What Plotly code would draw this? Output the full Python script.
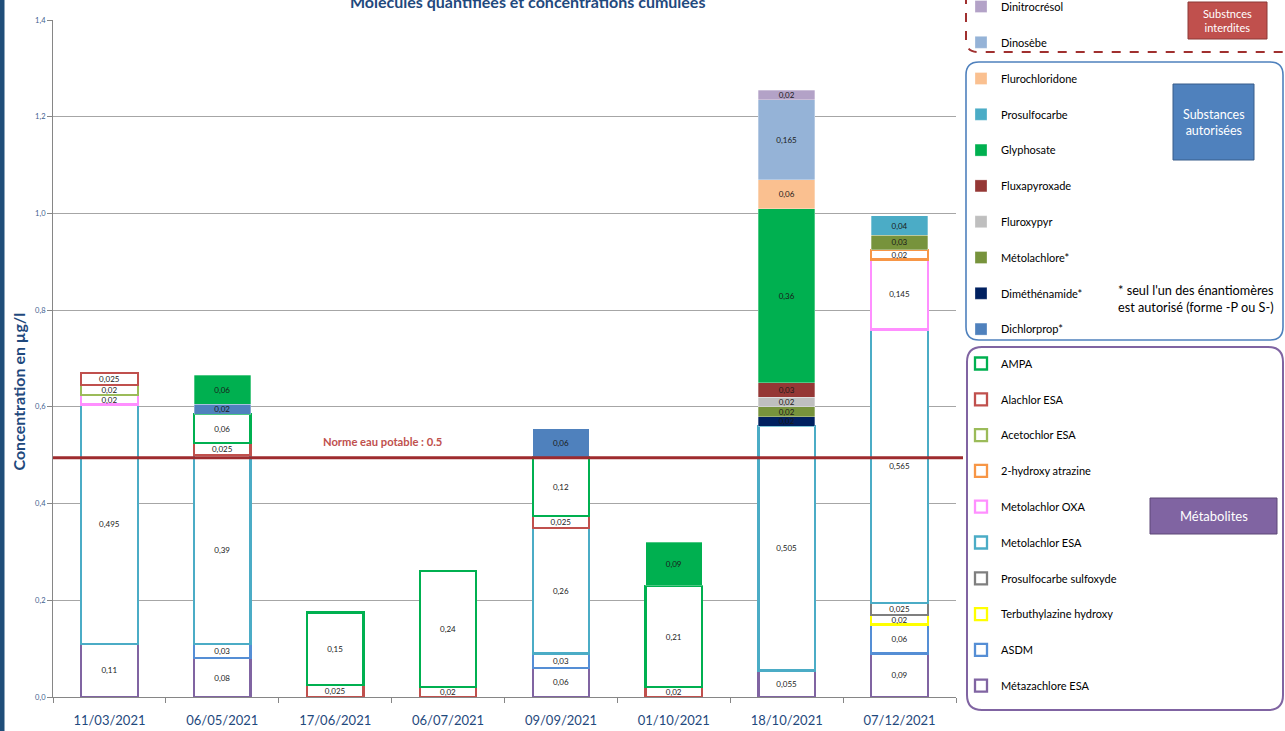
import plotly.graph_objects as go

# ---------------- data ----------------
dates = ["11/03/2021", "06/05/2021", "17/06/2021", "06/07/2021",
         "09/09/2021", "01/10/2021", "18/10/2021", "07/12/2021"]

# Métabolites (bottom of the stack first)
metazachlore_esa = [0.11, 0.08, None, None, 0.06, None, 0.055, 0.09]
asdm = [None, 0.03, None, None, 0.03, None, None, 0.06]
terbuthylazine_hydroxy = [None, None, None, None, None, None, None, 0.02]
prosulfocarbe_sulfoxyde = [None, None, None, None, None, None, None, 0.025]
metolachlor_esa = [0.495, 0.39, None, None, 0.26, None, 0.505, 0.565]
metolachlor_oxa = [0.02, None, None, None, None, None, None, 0.145]
hydroxy_atrazine = [None, None, None, None, None, None, None, 0.02]
acetochlor_esa = [0.02, None, None, None, None, None, None, None]
alachlor_esa = [0.025, 0.025, 0.025, 0.02, 0.025, 0.02, None, None]
ampa = [None, 0.06, 0.15, 0.24, 0.12, 0.21, None, None]
# Substances autorisées
dichlorprop = [None, 0.02, None, None, 0.06, None, None, None]
dimethenamide = [None, None, None, None, None, None, 0.02, None]
metolachlore = [None, None, None, None, None, None, 0.02, 0.03]
fluroxypyr = [None, None, None, None, None, None, 0.02, None]
fluxapyroxade = [None, None, None, None, None, None, 0.03, None]
glyphosate = [None, 0.06, None, None, None, 0.09, 0.36, None]
prosulfocarbe = [None, None, None, None, None, None, None, 0.04]
flurochloridone = [None, None, None, None, None, None, 0.06, None]
# Substances interdites
dinoseb = [None, None, None, None, None, None, 0.165, None]
dinitrocresol = [None, None, None, None, None, None, 0.02, None]

norme = 0.5
norme_drawn = 0.495
y_ticks = [0.0, 0.2, 0.4, 0.6, 0.8, 1.0, 1.2, 1.4]

# (name, values, colour, filled, legend box)
series = [
    ("Métazachlore ESA", metazachlore_esa, "#8064A2", False, "legend3"),
    ("ASDM", asdm, "#558ED5", False, "legend3"),
    ("Terbuthylazine hydroxy", terbuthylazine_hydroxy, "#FFFF00", False, "legend3"),
    ("Prosulfocarbe sulfoxyde", prosulfocarbe_sulfoxyde, "#7F7F7F", False, "legend3"),
    ("Metolachlor ESA", metolachlor_esa, "#4BACC6", False, "legend3"),
    ("Metolachlor OXA", metolachlor_oxa, "#FF8FFF", False, "legend3"),
    ("2-hydroxy atrazine", hydroxy_atrazine, "#F79646", False, "legend3"),
    ("Acetochlor ESA", acetochlor_esa, "#9BBB59", False, "legend3"),
    ("Alachlor ESA", alachlor_esa, "#C0504D", False, "legend3"),
    ("AMPA", ampa, "#00B050", False, "legend3"),
    ("Dichlorprop*", dichlorprop, "#4F81BD", True, "legend2"),
    ("Diméthénamide*", dimethenamide, "#002060", True, "legend2"),
    ("Métolachlore*", metolachlore, "#77933C", True, "legend2"),
    ("Fluroxypyr", fluroxypyr, "#BFBFBF", True, "legend2"),
    ("Fluxapyroxade", fluxapyroxade, "#953735", True, "legend2"),
    ("Glyphosate", glyphosate, "#00B050", True, "legend2"),
    ("Prosulfocarbe", prosulfocarbe, "#4BACC6", True, "legend2"),
    ("Flurochloridone", flurochloridone, "#FAC090", True, "legend2"),
    ("Dinosèbe", dinoseb, "#95B3D7", True, "legend"),
    ("Dinitrocrésol", dinitrocresol, "#B3A2C7", True, "legend"),
]

FONT = "Lato, 'Open Sans', sans-serif"
DARKBLUE = "#1F497D"

def fmt(v):
    return "" if v is None else ("%g" % v).replace(".", ",")

fig = go.Figure()
n = len(series)
for i, (name, vals, col, filled, leg) in enumerate(series):
    fig.add_trace(go.Bar(
        x=dates, y=vals, name=name, legendgroup=name, legend=leg,
        legendrank=n - i,
        marker=dict(color=col if filled else "white",
                    line=dict(color=col if not filled else "rgba(255,255,255,0.6)",
                              width=2.3 if not filled else 0.5)),
        text=[fmt(v) for v in vals],
        textposition="inside", insidetextanchor="middle", textangle=0,
        textfont=dict(size=8, color="#1a1a1a", family=FONT),
        cliponaxis=False,
    ))

# ---------- helpers for decoration placement (pixel -> paper) ----------
L, R, T, B = 53, 956, 20, 697
W, H = 1285, 731

def px(x):
    return (x - L) / (R - L)

def py(y):
    return 1 - (y - T) / (B - T)

def rrect(x0, y0, x1, y1, r):
    pts = [
        ("M", [(x0 + r, y0)]), ("L", [(x1 - r, y0)]), ("Q", [(x1, y0), (x1, y0 + r)]),
        ("L", [(x1, y1 - r)]), ("Q", [(x1, y1), (x1 - r, y1)]),
        ("L", [(x0 + r, y1)]), ("Q", [(x0, y1), (x0, y1 - r)]),
        ("L", [(x0, y0 + r)]), ("Q", [(x0, y0), (x0 + r, y0)]),
    ]
    s = ""
    for cmd, p in pts:
        s += cmd + " ".join("%.5f,%.5f" % (px(a), py(b)) for a, b in p) + " "
    return s + "Z"

shapes = []
annotations = []

# norm line
shapes.append(dict(type="line", xref="paper", yref="y", x0=0, x1=px(963),
                   y0=norme_drawn, y1=norme_drawn,
                   line=dict(color="#9E2B2E", width=3), layer="above"))
annotations.append(dict(text="<b>Norme eau potable : %s</b>" % norme, xref="paper", yref="y",
                        x=px(382), y=0.528, showarrow=False, xanchor="center",
                        font=dict(family=FONT, size=11.2, color="#C0504D")))

# left dark stripe
shapes.append(dict(type="rect", xref="paper", yref="paper", x0=px(0), x1=px(4.5),
                   y0=py(740), y1=py(-10), fillcolor="#1F4E79", line=dict(width=0)))

# group boxes
shapes.append(dict(type="path", xref="paper", yref="paper",
                   path=rrect(966, -30, 1310, 52, 12),
                   line=dict(color="#A0302F", width=2, dash="dash")))
shapes.append(dict(type="path", xref="paper", yref="paper",
                   path=rrect(966, 62, 1283, 340, 13),
                   line=dict(color="#4F81BD", width=1.6)))
shapes.append(dict(type="path", xref="paper", yref="paper",
                   path=rrect(967, 347, 1283, 710, 15),
                   line=dict(color="#8064A2", width=2)))

# label boxes
for (x0, y0, x1, y1, fill, border, txt, fs) in [
    (1188, 2, 1267, 39, "#C0504D", "#8C3836", "Substnces<br>interdites", 11),
    (1173, 84, 1254, 160, "#4F81BD", "#385D8A", "Substances<br>autorisées", 12.5),
    (1150, 498, 1277, 534, "#8064A2", "#5C4776", "Métabolites", 13),
]:
    shapes.append(dict(type="rect", xref="paper", yref="paper",
                       x0=px(x0), x1=px(x1), y0=py(y1), y1=py(y0),
                       fillcolor=fill, line=dict(color=border, width=1)))
    annotations.append(dict(text=txt, xref="paper", yref="paper",
                            x=px((x0 + x1) / 2), y=py((y0 + y1) / 2),
                            xanchor="center", yanchor="middle",
                            showarrow=False, align="center",
                            font=dict(family=FONT, size=fs, color="white")))

# footnote
annotations.append(dict(text="* seul l'un des énantiomères<br>est autorisé (forme -P ou S-)",
                        xref="paper", yref="paper", x=px(1116), y=py(298),
                        xanchor="left", yanchor="middle", align="left", showarrow=False,
                        font=dict(family=FONT, size=12.7, color="black")))

# title
annotations.append(dict(text="<b>Molécules quantifiées et concentrations cumulées</b>",
                        xref="paper", yref="paper", x=px(527), y=py(2),
                        showarrow=False, xanchor="center", yanchor="middle",
                        font=dict(family=FONT, size=16, color=DARKBLUE)))

# y axis title
annotations.append(dict(text="<b>Concentration en µg/l</b>", xref="paper", yref="paper",
                        x=px(17.5), y=py(392), textangle=-90, showarrow=False,
                        xanchor="center", yanchor="middle",
                        font=dict(family=FONT, size=16, color=DARKBLUE)))

leg_common = dict(xanchor="left", yanchor="top", traceorder="grouped",
                  tracegroupgap=16.8, bgcolor="rgba(0,0,0,0)", borderwidth=0,
                  font=dict(family=FONT, size=11, color="black"))

fig.update_layout(
    width=W, height=H,
    margin=dict(l=L, r=W - R, t=T, b=H - B, autoexpand=False),
    barmode="stack", bargap=0.5,
    plot_bgcolor="white", paper_bgcolor="white",
    separators=", ",
    uniformtext=dict(minsize=8, mode="show"),
    font=dict(family=FONT),
    showlegend=True,
    legend=dict(x=px(961), y=py(-8), **leg_common),
    legend2=dict(x=px(961), y=py(64), **leg_common),
    legend3=dict(x=px(961), y=py(349), **leg_common),
    shapes=shapes, annotations=annotations,
    xaxis=dict(type="category", showline=True, linecolor="#868686", linewidth=1,
               ticks="outside", tickson="boundaries", ticklen=5, tickcolor="#868686",
               tickfont=dict(family=FONT, size=13, color=DARKBLUE),
               ticklabelstandoff=11, showgrid=False),
    yaxis=dict(range=[0, 1.4], tickvals=y_ticks, tickformat=".1f",
               showline=True, linecolor="#868686", linewidth=1,
               ticks="outside", ticklen=5, tickcolor="#868686",
               tickfont=dict(family=FONT, size=7.5, color="#3F5F8F"),
               showgrid=True, gridcolor="#A6A6A6", gridwidth=1, zeroline=False),
)

fig.write_html("out.html", config={"displayModeBar": False},
               post_script="document.body.style.margin='0px';")
